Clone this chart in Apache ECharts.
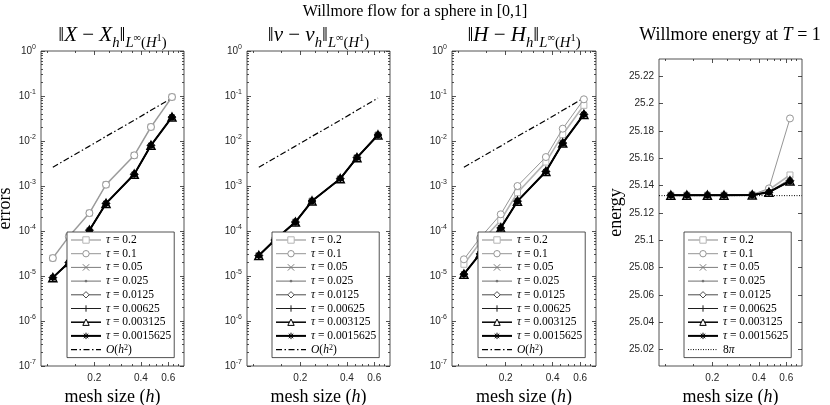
<!DOCTYPE html>
<html>
<head>
<meta charset="utf-8">
<script src="https://cdn.jsdelivr.net/npm/echarts@6/dist/echarts.min.js"></script>
<style>
html, body { margin: 0; padding: 0; background: #fff; }
#main { width: 830px; height: 405px; }
</style>
</head>
<body>
<div id="main"></div>
<script>
// mesh sizes h (x values, same for every panel)
var meshSize = [0.108, 0.137, 0.186, 0.238, 0.362, 0.464, 0.634];
var tauLabels = ['0.2', '0.1', '0.05', '0.025', '0.0125', '0.00625', '0.003125', '0.0015625'];

// ||X - X_h||, one row per tau
var errPos = [
    [2.5e-5, 7.5e-5, 2.5e-4, 1.07e-3, 4.8e-3, 2.05e-2, 9.5e-2],
    [2.5e-5, 7.5e-5, 2.5e-4, 1.07e-3, 4.8e-3, 2.05e-2, 9.5e-2],
    [9.2e-6, 2.0e-5, 1.04e-4, 4.1e-4, 1.82e-3, 8.0e-3, 3.4e-2],
    [9.2e-6, 2.0e-5, 1.04e-4, 4.1e-4, 1.82e-3, 8.0e-3, 3.4e-2],
    [9.2e-6, 2.0e-5, 1.04e-4, 4.1e-4, 1.82e-3, 8.0e-3, 3.4e-2],
    [9.2e-6, 2.0e-5, 1.04e-4, 4.1e-4, 1.82e-3, 8.0e-3, 3.4e-2],
    [9.2e-6, 2.0e-5, 1.04e-4, 4.1e-4, 1.82e-3, 8.0e-3, 3.4e-2],
    [9.2e-6, 2.0e-5, 1.04e-4, 4.1e-4, 1.82e-3, 8.0e-3, 3.4e-2]
];
// ||nu - nu_h||
var errNormal = [
    [2.85e-5, 6.3e-5, 1.58e-4, 4.64e-4, 1.45e-3, 4.26e-3, 1.36e-2],
    [2.85e-5, 6.3e-5, 1.58e-4, 4.64e-4, 1.45e-3, 4.26e-3, 1.36e-2],
    [2.85e-5, 6.3e-5, 1.58e-4, 4.64e-4, 1.45e-3, 4.26e-3, 1.36e-2],
    [2.85e-5, 6.3e-5, 1.58e-4, 4.64e-4, 1.45e-3, 4.26e-3, 1.36e-2],
    [2.85e-5, 6.3e-5, 1.58e-4, 4.64e-4, 1.45e-3, 4.26e-3, 1.36e-2],
    [2.85e-5, 6.3e-5, 1.58e-4, 4.64e-4, 1.45e-3, 4.26e-3, 1.36e-2],
    [2.85e-5, 6.3e-5, 1.58e-4, 4.64e-4, 1.45e-3, 4.26e-3, 1.36e-2],
    [2.85e-5, 6.3e-5, 1.58e-4, 4.64e-4, 1.45e-3, 4.26e-3, 1.36e-2]
];
// ||H - H_h||
var errCurv = [
    [1.82e-5, 5.5e-5, 1.73e-4, 7.1e-4, 3.4e-3, 1.39e-2, 6.2e-2],
    [2.35e-5, 7.0e-5, 2.35e-4, 1.0e-3, 4.4e-3, 1.88e-2, 8.45e-2],
    [1.1e-5, 3.1e-5, 1.17e-4, 4.6e-4, 2.1e-3, 9.0e-3, 3.9e-2],
    [1.1e-5, 3.1e-5, 1.17e-4, 4.6e-4, 2.1e-3, 9.0e-3, 3.9e-2],
    [1.1e-5, 3.1e-5, 1.17e-4, 4.6e-4, 2.1e-3, 9.0e-3, 3.9e-2],
    [1.1e-5, 3.1e-5, 1.17e-4, 4.6e-4, 2.1e-3, 9.0e-3, 3.9e-2],
    [1.1e-5, 3.1e-5, 1.17e-4, 4.6e-4, 2.1e-3, 9.0e-3, 3.9e-2],
    [1.1e-5, 3.1e-5, 1.17e-4, 4.6e-4, 2.1e-3, 9.0e-3, 3.9e-2]
];
// O(h^2) reference line
var orderRef = [2.6e-3, 4.2e-3, 7.7e-3, 1.27e-2, 2.9e-2, 4.8e-2, 9.0e-2];

// Willmore energy at T = 1
var energy = [
    [25.1330, 25.1330, 25.1330, 25.1330, 25.1333, 25.1370, 25.1478],
    [25.1330, 25.1330, 25.1330, 25.1330, 25.1334, 25.1380, 25.1892],
    [25.1330, 25.1330, 25.1330, 25.1330, 25.1332, 25.1356, 25.1448],
    [25.1330, 25.1330, 25.1330, 25.1330, 25.1332, 25.1353, 25.1440],
    [25.1330, 25.1330, 25.1330, 25.1330, 25.1332, 25.1352, 25.1436],
    [25.1330, 25.1330, 25.1330, 25.1330, 25.1332, 25.1352, 25.1434],
    [25.1330, 25.1330, 25.1330, 25.1330, 25.1332, 25.1352, 25.1434],
    [25.1330, 25.1330, 25.1330, 25.1330, 25.1332, 25.1352, 25.1434]
];
var energyRef = 25.1327; // 8*pi

// axis ranges and tick labels
var X_MIN = 0.0906, X_MAX = 0.758;
var xTickLabels = [0.2, 0.4, 0.6];
var xMinorTicks = [0.1, 0.15, 0.25, 0.3, 0.35, 0.45, 0.5, 0.55, 0.65, 0.7];
var yDecades = [-7, -6, -5, -4, -3, -2, -1, 0];
var energyTicks = [25.02, 25.04, 25.06, 25.08, 25.1, 25.12, 25.14, 25.16, 25.18, 25.2, 25.22];
var E_MIN = 25.008, E_MAX = 25.2327;

var chart = echarts.init(document.getElementById('main'));

var axisColor = '#262626';
var serif = 'Liberation Serif';
var sans = 'Liberation Sans';

var X_PATH = 'path://M0,0L10,10M10,0L0,10';
var PLUS_PATH = 'path://M5,0L5,10M0,5L10,5';
var STAR_PATH = 'path://M5,0L5,10M0,5L10,5M1.5,1.5L8.5,8.5M8.5,1.5L1.5,8.5';
var DOT_PATH = 'path://M0,0M10,10M3.6,5A1.4,1.4,0,1,1,6.4,5A1.4,1.4,0,1,1,3.6,5Z';

var tauStyle = [
    {c: '#b4b4b4', w: 1.6, sym: 'rect', size: 6, fill: '#fff'},
    {c: '#969696', w: 1, sym: 'circle', size: 7, fill: '#fff'},
    {c: '#7d7d7d', w: 1, sym: X_PATH, size: 5},
    {c: '#6e6e6e', w: 1, sym: DOT_PATH, size: 9},
    {c: '#4b4b4b', w: 1, sym: 'diamond', size: 8, fill: '#fff'},
    {c: '#1e1e1e', w: 1, sym: PLUS_PATH, size: 8},
    {c: '#000000', w: 1.5, sym: 'triangle', size: 8, bw: 1.5, fill: '#fff'},
    {c: '#000000', w: 2, sym: STAR_PATH, size: 7, bw: 1.8}
];

var boxes = [
    {left: 41, top: 51, width: 143, height: 315},
    {left: 247, top: 51, width: 143, height: 315},
    {left: 452, top: 51, width: 144, height: 315},
    {left: 659, top: 59, width: 143, height: 307}
];
var legendPos = [[67, 232], [272, 232], [478, 232], [684, 232]];

function lg(v) { return Math.log10(v); }

var grids = [], xAxes = [], yAxes = [], series = [], legends = [];

function tickOnly(gi, pos, min, max, vals, len) {
    return {
        type: 'value', gridIndex: gi, position: pos, min: min, max: max,
        axisLine: {show: false, onZero: false},
        splitLine: {show: false},
        axisTick: {show: true, inside: true, length: len, customValues: vals,
                   lineStyle: {color: axisColor, width: 0.8}},
        axisLabel: {show: false}
    };
}

var yMinor = [];
yDecades.slice(0, -1).forEach(function (e) {
    for (var k = 2; k <= 9; k++) yMinor.push(e + lg(k));
});

var xMajorLog = xTickLabels.map(lg);
var xMinorLog = xMinorTicks.map(lg);

var nameStyle = {
    fontFamily: serif, fontSize: 18, color: '#000',
    rich: {it: {fontFamily: serif, fontSize: 18, fontStyle: 'italic', color: '#000'}}
};

function addXAxes(gi) {
    var xi = xAxes.length;
    xAxes.push({type: 'log', gridIndex: gi, min: X_MIN, max: X_MAX, show: false});
    var lab = tickOnly(gi, 'bottom', lg(X_MIN), lg(X_MAX), xMajorLog, 4);
    lab.axisLabel = {
        show: true, customValues: xMajorLog, margin: 7,
        fontFamily: sans, fontSize: 10, color: axisColor,
        formatter: function (v) { return Math.pow(10, v).toFixed(1); }
    };
    lab.name = 'mesh size ({it|h})';
    lab.nameLocation = 'middle';
    lab.nameGap = 18;
    lab.nameTextStyle = nameStyle;
    xAxes.push(lab);
    xAxes.push(tickOnly(gi, 'bottom', lg(X_MIN), lg(X_MAX), xMinorLog, 2));
    xAxes.push(tickOnly(gi, 'top', lg(X_MIN), lg(X_MAX), xMajorLog, 4));
    xAxes.push(tickOnly(gi, 'top', lg(X_MIN), lg(X_MAX), xMinorLog, 2));
    return xi;
}

function addLogYAxes(gi, name) {
    var yi = yAxes.length;
    yAxes.push({type: 'log', gridIndex: gi, min: 1e-7, max: 1, show: false});
    var lab = tickOnly(gi, 'left', -7, 0, yDecades, 4);
    lab.axisLabel = {
        show: true, customValues: yDecades, margin: 5,
        fontFamily: sans, fontSize: 10, color: axisColor, lineHeight: 14,
        formatter: function (v) { return '10{sup|' + Math.round(v) + '}'; },
        rich: {sup: {fontFamily: sans, fontSize: 7, color: axisColor, verticalAlign: 'top', lineHeight: 7}}
    };
    if (name) {
        lab.name = name;
        lab.nameLocation = 'middle';
        lab.nameGap = 22;
        lab.nameTextStyle = nameStyle;
    }
    yAxes.push(lab);
    yAxes.push(tickOnly(gi, 'left', -7, 0, yMinor, 2));
    yAxes.push(tickOnly(gi, 'right', -7, 0, yDecades, 4));
    yAxes.push(tickOnly(gi, 'right', -7, 0, yMinor, 2));
    return yi;
}

function lineSeries(name, xi, yi, ys, st, z) {
    return {
        name: name, type: 'line', xAxisIndex: xi, yAxisIndex: yi,
        data: meshSize.map(function (h, i) { return [h, ys[i]]; }),
        symbol: st.sym || 'none', symbolSize: st.size || 0,
        lineStyle: {color: st.c, width: st.w, type: st.dash || 'solid'},
        itemStyle: st.sym
            ? {color: st.fill || st.c, borderColor: st.c, borderWidth: st.bw || 1}
            : {color: 'rgba(0,0,0,0)', borderWidth: 0},
        z: z, silent: true, animation: false
    };
}

var legendRich = {
    it: {fontFamily: serif, fontSize: 11.5, fontStyle: 'italic', color: '#000'},
    sup: {fontFamily: serif, fontSize: 8, color: '#000', verticalAlign: 'top', lineHeight: 8}
};
function legendFormatter(name) {
    if (name.charAt(0) === 'τ') return '{it|τ} = ' + name.slice(4);
    if (name === 'O(h^2)') return '{it|O}({it|h}{sup|2})';
    if (name === '8π') return '8{it|π}';
    return name;
}

var tauNames = tauLabels.map(function (t) { return 'τ = ' + t; });
var errData = [errPos, errNormal, errCurv];

boxes.forEach(function (b, gi) {
    grids.push({left: b.left, top: b.top, width: b.width, height: b.height,
                show: true, borderColor: axisColor, borderWidth: 0.8,
                backgroundColor: 'transparent', outerBoundsMode: 'none'});
    var xi = addXAxes(gi);
    var yi, extraName;
    if (gi < 3) {
        yi = addLogYAxes(gi, gi === 0 ? 'errors' : null);
        errData[gi].forEach(function (row, t) {
            series.push(lineSeries(tauNames[t], xi, yi, row, tauStyle[t], 2 + t));
        });
        series.push(lineSeries('O(h^2)', xi, yi, orderRef,
            {c: '#000', w: 1.2, dash: [6, 2.5, 1.5, 2.5]}, 2));
        extraName = 'O(h^2)';
    } else {
        yi = yAxes.length;
        yAxes.push({
            type: 'value', gridIndex: gi, position: 'left', min: E_MIN, max: E_MAX,
            axisLine: {show: false, onZero: false}, splitLine: {show: false},
            axisTick: {show: true, inside: true, length: 4, customValues: energyTicks,
                       lineStyle: {color: axisColor, width: 0.8}},
            axisLabel: {show: true, customValues: energyTicks, margin: 5,
                        fontFamily: sans, fontSize: 10, color: axisColor,
                        formatter: function (v) { return String(Math.round(v * 100) / 100); }},
            name: 'energy', nameLocation: 'middle', nameGap: 34, nameTextStyle: nameStyle
        });
        yAxes.push(tickOnly(gi, 'right', E_MIN, E_MAX, energyTicks, 4));
        energy.forEach(function (row, t) {
            series.push(lineSeries(tauNames[t], xi, yi, row, tauStyle[t], 2 + t));
        });
        series.push({
            name: '8π', type: 'line', xAxisIndex: xi, yAxisIndex: yi,
            data: [[X_MIN, energyRef], [X_MAX, energyRef]],
            symbol: 'none', lineStyle: {color: '#000', width: 1, type: [1, 1.5]},
            itemStyle: {color: 'rgba(0,0,0,0)', borderWidth: 0}, z: 1, silent: true, animation: false
        });
        extraName = '8π';
    }
    legends.push({
        left: legendPos[gi][0], top: legendPos[gi][1], orient: 'vertical',
        data: tauNames.concat([extraName]),
        backgroundColor: '#fff', borderColor: axisColor, borderWidth: 0.8,
        padding: [2, 3, 2, 3], itemWidth: 30, itemHeight: 8, itemGap: 1.7,
        selectedMode: false, z: 10,
        itemStyle: {borderWidth: 1},
        lineStyle: {width: 'inherit'},
        formatter: legendFormatter,
        textStyle: {fontFamily: serif, fontSize: 11.5, lineHeight: 12, color: '#000', rich: legendRich}
    });
});

// math-like titles: lay tokens out left to right with measured widths
var measureCtx = document.createElement('canvas').getContext('2d');
function mathText(cx, baseline, tokens) {
    var widths = tokens.map(function (t) {
        measureCtx.font = (t.it ? 'italic ' : '') + t.size + 'px "' + serif + '"';
        return measureCtx.measureText(t.s).width;
    });
    var total = widths.reduce(function (a, b) { return a + b; }, 0);
    var x = cx - total / 2;
    return tokens.map(function (t, i) {
        var el = {
            type: 'text', x: x, y: baseline + (t.dy || 0) - 0.34 * t.size, silent: true,
            style: {text: t.s, fontFamily: serif, fontSize: t.size,
                    fontStyle: t.it ? 'italic' : 'normal', fill: '#000',
                    align: 'left', verticalAlign: 'middle'}
        };
        x += widths[i];
        return el;
    });
}

var M = 21, S = 14.7, SS = 10.5;
function normTitle(sym) {
    return [
        {s: '‖', size: M}, {s: sym, size: M, it: true}, {s: ' − ', size: M},
        {s: sym, size: M, it: true}, {s: 'h', size: S, it: true, dy: 5},
        {s: '‖', size: M},
        {s: 'L', size: S, it: true, dy: 5}, {s: '∞', size: SS, dy: -1.5},
        {s: '(', size: S, dy: 5}, {s: 'H', size: S, it: true, dy: 5},
        {s: '1', size: SS, dy: -1.5}, {s: ')', size: S, dy: 5}
    ];
}
var panelSymbols = ['X', 'ν', 'H'];

var graphics = [];
graphics = graphics.concat(mathText(415, 17, [{s: 'Willmore flow for a sphere in [0,1]', size: 16}]));
panelSymbols.forEach(function (sym, i) {
    graphics = graphics.concat(mathText(boxes[i].left + boxes[i].width / 2, 43, normTitle(sym)));
});
graphics = graphics.concat(mathText(730, 41, [
    {s: 'Willmore energy at ', size: 18}, {s: 'T', size: 18, it: true}, {s: ' = 1', size: 18}
]));

var option = {
    backgroundColor: '#fff',
    animation: false,
    grid: grids,
    xAxis: xAxes,
    yAxis: yAxes,
    legend: legends,
    series: series,
    graphic: graphics
};

chart.setOption(option);
</script>
</body>
</html>
